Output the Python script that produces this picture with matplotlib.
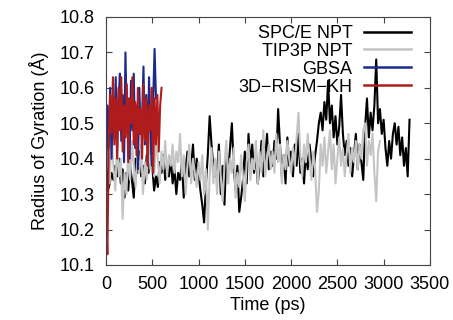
import numpy as np
import matplotlib
matplotlib.use("Agg")
import matplotlib.pyplot as plt

plt.rcParams['font.family'] = ['Liberation Sans', 'DejaVu Sans']

# SPC/E NPT, one frame every 20 ps
spce_dt = 20
spce_rg = [
    10.45, 10.31, 10.33, 10.36, 10.34, 10.38, 10.35, 10.40, 10.33, 10.37,
    10.29, 10.36, 10.31, 10.38, 10.34, 10.29, 10.40, 10.36, 10.42, 10.35,
    10.38, 10.33, 10.41, 10.36, 10.44, 10.38, 10.31, 10.35, 10.32, 10.39,
    10.36, 10.41, 10.34, 10.38, 10.35, 10.40, 10.33, 10.37, 10.30, 10.36,
    10.34, 10.39, 10.29, 10.37, 10.42, 10.35, 10.38, 10.44, 10.34, 10.40,
    10.36, 10.31, 10.27, 10.22, 10.33, 10.41, 10.52, 10.44, 10.38, 10.35,
    10.36, 10.44, 10.30, 10.38, 10.27, 10.41, 10.36, 10.43, 10.50, 10.38,
    10.31, 10.38, 10.25, 10.29, 10.34, 10.42, 10.33, 10.47, 10.38, 10.44,
    10.36, 10.42, 10.33, 10.38, 10.45, 10.35, 10.40, 10.47, 10.37, 10.42,
    10.38, 10.45, 10.40, 10.54, 10.44, 10.35, 10.41, 10.33, 10.46, 10.38,
    10.42, 10.35, 10.44, 10.38, 10.47, 10.36, 10.40, 10.33, 10.42, 10.37,
    10.44, 10.39, 10.35, 10.41, 10.45, 10.50, 10.53, 10.48, 10.56, 10.51,
    10.62, 10.50, 10.55, 10.46, 10.52, 10.44, 10.49, 10.58, 10.47, 10.41,
    10.45, 10.38, 10.43, 10.35, 10.41, 10.47, 10.37, 10.44, 10.39, 10.34,
    10.49, 10.57, 10.46, 10.53, 10.48, 10.55, 10.68, 10.50, 10.54, 10.47,
    10.51, 10.43, 10.38, 10.45, 10.40, 10.47, 10.50, 10.44, 10.49, 10.41,
    10.46, 10.38, 10.43, 10.35, 10.51,
]

# TIP3P NPT, one frame every 20 ps
tip3p_dt = 20
tip3p_rg = [
    10.36, 10.42, 10.33, 10.47, 10.38, 10.31, 10.44, 10.35, 10.40, 10.23,
    10.36, 10.30, 10.42, 10.34, 10.45, 10.38, 10.32, 10.41, 10.36, 10.44,
    10.30, 10.39, 10.34, 10.46, 10.37, 10.42, 10.35, 10.45, 10.40, 10.33,
    10.42, 10.37, 10.45, 10.35, 10.41, 10.38, 10.44, 10.36, 10.42, 10.39,
    10.47, 10.35, 10.41, 10.30, 10.38, 10.44, 10.33, 10.40, 10.36, 10.32,
    10.39, 10.34, 10.41, 10.30, 10.37, 10.20, 10.35, 10.43, 10.33, 10.40,
    10.30, 10.42, 10.35, 10.28, 10.38, 10.45, 10.33, 10.40, 10.36, 10.43,
    10.29, 10.36, 10.32, 10.41, 10.35, 10.28, 10.39, 10.44, 10.34, 10.40,
    10.37, 10.45, 10.33, 10.42, 10.36, 10.48, 10.35, 10.40, 10.44, 10.37,
    10.42, 10.36, 10.47, 10.39, 10.44, 10.33, 10.41, 10.37, 10.45, 10.40,
    10.36, 10.43, 10.38, 10.46, 10.53, 10.41, 10.35, 10.44, 10.39, 10.47,
    10.40, 10.34, 10.42, 10.37, 10.25, 10.31, 10.44, 10.38, 10.46, 10.36,
    10.42, 10.48, 10.37, 10.44, 10.33, 10.40, 10.46, 10.38, 10.43, 10.35,
    10.41, 10.47, 10.36, 10.43, 10.39, 10.45, 10.37, 10.44, 10.40, 10.48,
    10.50, 10.38, 10.45, 10.41, 10.47, 10.36, 10.28, 10.42, 10.45,
]

# GBSA, one frame every 15 ps
gbsa_dt = 15
gbsa_rg = [
    10.32, 10.55, 10.43, 10.60, 10.40, 10.58, 10.46, 10.63, 10.42, 10.56,
    10.64, 10.45, 10.58, 10.39, 10.70, 10.50, 10.57, 10.40, 10.62, 10.48,
    10.64, 10.43, 10.55, 10.37, 10.60, 10.47, 10.52, 10.66, 10.44, 10.58,
    10.40, 10.63, 10.48, 10.38, 10.57, 10.71, 10.57,
]

# 3D-RISM-KH, one frame every 15 ps
rism_dt = 15
rism_rg = [
    10.24, 10.13, 10.45, 10.58, 10.47, 10.63, 10.44, 10.57, 10.40, 10.60,
    10.48, 10.63, 10.42, 10.55, 10.46, 10.61, 10.39, 10.57, 10.50, 10.63,
    10.44, 10.56, 10.41, 10.60, 10.47, 10.54, 10.40, 10.61, 10.45, 10.57,
    10.38, 10.55, 10.48, 10.60, 10.36, 10.57, 10.44, 10.58, 10.42, 10.55,
    10.60,
]

series = [
    ("SPC/E NPT", spce_dt, spce_rg, "black"),
    ("TIP3P NPT", tip3p_dt, tip3p_rg, "#c4c4c4"),
    ("GBSA", gbsa_dt, gbsa_rg, "#1c2a8c"),
    ("3D\u2212RISM\u2212KH", rism_dt, rism_rg, "#b01c1c"),
]

fig = plt.figure(figsize=(4.53, 3.20), dpi=100)
ax = fig.add_axes([0.234, 0.172, 0.715, 0.775])

for name, dt, rg, col in series:
    t = np.arange(len(rg)) * dt
    ax.plot(t, rg, color=col, lw=1.5, label=name)

ax.set_xlim(0, 3500)
ax.set_ylim(10.1, 10.8)
ax.set_xticks(np.arange(0, 3501, 500))
ax.set_yticks(np.arange(10.1, 10.81, 0.1))
ax.yaxis.set_major_formatter(matplotlib.ticker.FormatStrFormatter('%.1f'))
ax.tick_params(direction='in', length=4, width=0.8, color='#444444',
               top=True, right=True, labelsize=13, pad=8)
for s in ax.spines.values():
    s.set_color('#444444')
    s.set_linewidth(0.8)

ax.set_xlabel("Time (ps)", fontsize=13, labelpad=3)
ax.set_ylabel("Radius of Gyration (\u00c5)", fontsize=13, labelpad=8)

leg = ax.legend(loc='upper right', bbox_to_anchor=(0.942, 0.968), frameon=False,
                markerfirst=False, fontsize=13, handlelength=2.6,
                handletextpad=0.65, labelspacing=0.05, borderpad=0,
                borderaxespad=0)
for line in leg.get_lines():
    line.set_linewidth(1.8)

fig.savefig("out.png", dpi=100)
